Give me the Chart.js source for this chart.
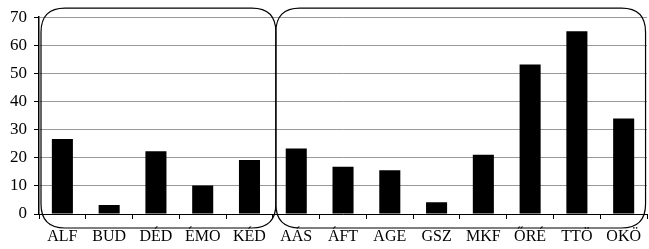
<!DOCTYPE html>
<html>
<head>
<meta charset="utf-8">
<script src="https://cdn.jsdelivr.net/npm/chart.js@4"></script>
<style>
html,body{margin:0;padding:0;background:#fff;}
#wrap{width:649px;height:249px;}
</style>
</head>
<body>
<div id="wrap"><canvas id="c" width="649" height="249"></canvas></div>
<script>
const categories = ["ALF","BUD","DÉD","ÉMO","KÉD","AÁS","ÁFT","AGE","GSZ","MKF","ŐRÉ","TTÖ","OKÖ"];
const values = [26.7, 3.2, 22.3, 10.1, 19.2, 23.3, 16.8, 15.6, 4.2, 21.1, 53.2, 65, 34];
const groupSplit = 5; // first group: ALF..KÉD
const yMin = 0, yMax = 70, yStep = 10;

function roundRect(ctx, x0, y0, x1, y1, r) {
  ctx.beginPath();
  ctx.moveTo(x0 + r, y0);
  ctx.lineTo(x1 - r, y0);
  ctx.quadraticCurveTo(x1, y0, x1, y0 + r);
  ctx.lineTo(x1, y1 - r);
  ctx.quadraticCurveTo(x1, y1, x1 - r, y1);
  ctx.lineTo(x0 + r, y1);
  ctx.quadraticCurveTo(x0, y1, x0, y1 - r);
  ctx.lineTo(x0, y0 + r);
  ctx.quadraticCurveTo(x0, y0, x0 + r, y0);
  ctx.closePath();
  ctx.stroke();
}

const groupBoxes = {
  id: 'groupBoxes',
  afterDraw(chart) {
    const {ctx, chartArea, scales} = chart;
    const xs = scales.x;
    const mid = (xs.getPixelForValue(groupSplit - 1) + xs.getPixelForValue(groupSplit)) / 2 + 3;
    const top = chartArea.top - 9;
    const bottom = chartArea.bottom + 14;
    ctx.save();
    ctx.strokeStyle = '#000';
    ctx.lineWidth = 1.2;
    roundRect(ctx, chartArea.left + 2, top, mid, bottom, 24);
    roundRect(ctx, mid, top, chartArea.right - 1.5, bottom, 24);
    ctx.restore();
  }
};

new Chart(document.getElementById('c'), {
  type: 'bar',
  data: {
    labels: categories,
    datasets: [{
      data: values,
      backgroundColor: '#000',
      borderWidth: 0,
      categoryPercentage: 1,
      barPercentage: 0.45
    }]
  },
  options: {
    responsive: false,
    animation: false,
    events: [],
    layout: {padding: {top: 16, right: 0, bottom: 0, left: 0}},
    plugins: {legend: {display: false}, tooltip: {enabled: false}},
    scales: {
      x: {
        grid: {drawOnChartArea: false, drawTicks: true, tickLength: 5, tickColor: '#000', offset: true},
        border: {display: true, color: '#000', width: 1},
        ticks: {color: '#000', font: {family: 'Liberation Serif', size: 16}, padding: 8, maxRotation: 0, autoSkip: false},
        afterFit(s) { s.height = 35; }
      },
      y: {
        min: yMin, max: yMax,
        grid: {color: '#999', lineWidth: 1, tickColor: '#000', tickLength: 5},
        border: {display: true, color: '#000', width: 1.5},
        ticks: {stepSize: yStep, color: '#000', font: {family: 'Liberation Serif', size: 17}, padding: 7},
        afterFit(s) { s.width = 39; }
      }
    }
  },
  plugins: [groupBoxes]
});
</script>
</body>
</html>
